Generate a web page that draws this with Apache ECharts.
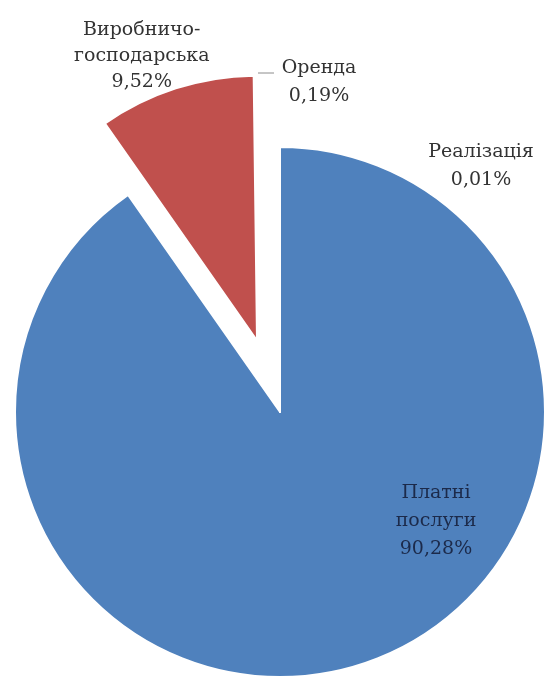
<!DOCTYPE html>
<html><head><meta charset="utf-8">
<script src="https://cdn.jsdelivr.net/npm/echarts@6/dist/echarts.min.js"></script>
<style>html,body{margin:0;padding:0;background:#fff}#c{width:548px;height:679px}</style>
</head><body><div id="c"></div>
<script>
var categories = ['Платні послуги', 'Виробничо-господарська', 'Оренда', 'Реалізація'];
var values = [90.28, 9.52, 0.19, 0.01];
var colors = ['#4F81BD', '#C0504D', '#ffffff', '#ffffff'];
var exploded = [false, true, false, false];

var labelPos = [[436, 521], [142, 54], [319, 82], [481, 166]];

var chart = echarts.init(document.getElementById('c'), null, {renderer: 'canvas'});
var data = categories.map(function (c, i) {
  return {
    name: c, value: values[i], selected: exploded[i],
    itemStyle: {color: colors[i]},
    label: {color: i === 0 ? '#1c2a4a' : '#333333', lineHeight: i === 1 ? 26 : 28},
    labelLine: {show: i === 2, lineStyle: {color: '#8c8c8c', width: 1}}
  };
});
chart.setOption({
  animation: false,
  series: [{
    type: 'pie',
    center: [280, 412],
    radius: 265,
    startAngle: 90,
    clockwise: true,
    selectedMode: 'single',
    selectedOffset: 75,
    avoidLabelOverlap: false,
    emphasis: {disabled: true},
    itemStyle: {borderColor: '#fff', borderWidth: 2},
    label: {
      show: true,
      position: 'outside',
      fontFamily: 'DejaVu Serif',
      fontSize: 19,
      lineHeight: 28,
      align: 'center',
      formatter: function (p) {
        var n = p.name.replace('-', '-\n').replace(' ', '\n');
        return n + '\n' + p.value.toFixed(2).replace('.', ',') + '%';
      }
    },
    labelLayout: function (p) {
      var pos = labelPos[p.dataIndex];
      var r = {x: pos[0], y: pos[1], align: 'center', verticalAlign: 'middle'};
      if (p.dataIndex === 1) {
        // exploded slice: its label is shifted together with the slice, so move relatively
        var cx = p.labelRect.x + p.labelRect.width / 2;
        var cy = p.labelRect.y + p.labelRect.height / 2;
        r = {dx: pos[0] - cx - 45, dy: pos[1] - cy + 73, align: 'center'};
      }
      if (p.dataIndex === 2) {
        r.labelLinePoints = [[258, 73], [266, 73], [274, 73]];
      }
      return r;
    },
    data: data
  }]
});
</script></body></html>
